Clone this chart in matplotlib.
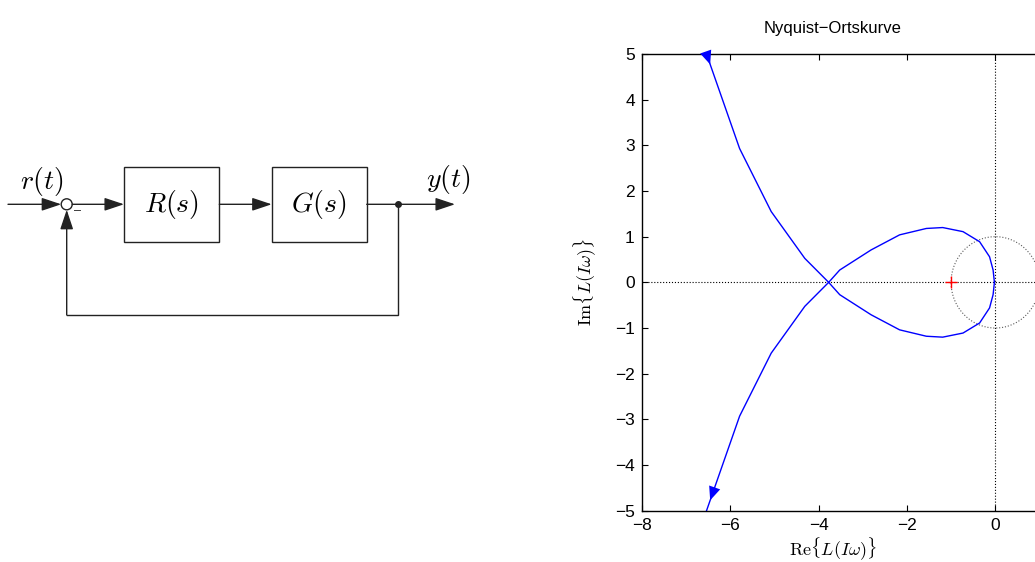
import numpy as np
import matplotlib
matplotlib.use('Agg')
import matplotlib.pyplot as plt
from matplotlib.patches import Circle, Rectangle

plt.rcParams['font.family'] = ['Liberation Sans', 'DejaVu Sans']
plt.rcParams['mathtext.fontset'] = 'cm'

# Ortskurve L(I*w): Zweig von unten ueber den Schnittpunkt bis zum Ursprung
re_branch = [-6.75, -5.785, -5.07, -4.31, -3.77, -3.52, -2.81, -2.165, -1.56,
             -1.19, -0.73, -0.355, -0.13, -0.05, -0.02]
im_branch = [-5.6, -2.93, -1.55, -0.525, 0.0, 0.27, 0.71, 1.04, 1.18,
             1.20, 1.11, 0.89, 0.56, 0.27, 0.0]
critical_point = [-1, 0]
x_ticks = [-8, -6, -4, -2, 0]
y_ticks = [-5, -4, -3, -2, -1, 0, 1, 2, 3, 4, 5]

re_branch = np.array(re_branch)
im_branch = np.array(im_branch)

fig = plt.figure(figsize=(10.35, 5.62), dpi=100)

# ---- Blockschaltbild (in Pixelkoordinaten) ----
ax0 = fig.add_axes([0, 0, 1, 1])
ax0.set_xlim(0, 1035)
ax0.set_ylim(562, 0)
ax0.axis('off')

lc = '#222222'
arrow = dict(arrowstyle='-|>,head_length=0.6,head_width=0.2', color=lc, lw=1,
             mutation_scale=20, shrinkA=0, shrinkB=0)

cx, cy, cr = 66.7, 204.3, 5.5
ax0.add_patch(Circle((cx, cy), cr, facecolor='white', edgecolor=lc, lw=1, zorder=3))
ax0.add_patch(Rectangle((124, 167.3), 95.3, 74.4, fill=False, edgecolor=lc, lw=1))
ax0.add_patch(Rectangle((271.7, 167.3), 95, 74.4, fill=False, edgecolor=lc, lw=1))

ax0.annotate('', xy=(cx - cr, cy), xytext=(8, cy), arrowprops=arrow)
ax0.annotate('', xy=(124, cy), xytext=(cx + cr, cy), arrowprops=arrow)
ax0.annotate('', xy=(271.7, cy), xytext=(219.3, cy), arrowprops=arrow)
ax0.annotate('', xy=(455, cy), xytext=(366.7, cy), arrowprops=arrow)
ax0.plot([398.3, 398.3, cx], [cy, 315, 315], color=lc, lw=1,
         solid_joinstyle='miter')
ax0.annotate('', xy=(cx, cy + cr), xytext=(cx, 315), arrowprops=arrow)
ax0.plot(398.3, cy, 'o', color=lc, ms=4)

ax0.text(41.7, 181, r'$r(t)$', fontsize=20, ha='center', va='center')
ax0.text(448, 180, r'$y(t)$', fontsize=20, ha='center', va='center')
ax0.text(171.6, 204.5, r'$R(s)$', fontsize=20, ha='center', va='center')
ax0.text(319.2, 204.5, r'$G(s)$', fontsize=20, ha='center', va='center')
ax0.text(78, 211, '\u2013', fontsize=9, ha='center', va='center', color=lc)

# ---- Nyquist-Ortskurve ----
# x-Bereich reicht ueber den rechten Bildrand hinaus (rechte Achse abgeschnitten)
ax = fig.add_axes([0.62, 0.0913, 9.4 * 44.2 / 1035, 0.8126])

ax.axhline(0, color='k', ls=':', lw=0.8)
ax.axvline(0, color='k', ls=':', lw=0.8)
phi = np.linspace(0, 2 * np.pi, 300)
ax.plot(np.cos(phi), np.sin(phi), ls=':', color='0.35', lw=0.8)

ax.plot(re_branch, im_branch, color='b', lw=1)
ax.plot(re_branch, -im_branch, color='b', lw=1)
ax.plot(critical_point[0], critical_point[1], '+', color='r', ms=9, mew=1)

# Pfeile auf dem ersten Segment der beiden Zweige
def on_segment(t):
    return (re_branch[0] + t * (re_branch[1] - re_branch[0]),
            im_branch[0] + t * (im_branch[1] - im_branch[0]))

head = dict(arrowstyle='-|>,head_length=0.7,head_width=0.3', color='b', lw=0,
            mutation_scale=14, shrinkA=0, shrinkB=0)
tx, ty = on_segment(0.31)
bx, by = on_segment(0.12)
ax.annotate('', xy=(tx, -ty), xytext=(bx, -by), arrowprops=head)
tx, ty = on_segment(0.31)
bx, by = on_segment(0.50)
ax.annotate('', xy=(tx, ty), xytext=(bx, by), arrowprops=head)

ax.set_xlim(-8, 1.4)
ax.set_ylim(-5, 5)
ax.set_xticks(x_ticks)
ax.set_yticks(y_ticks)
ax.tick_params(direction='in', top=True, right=True, length=4, labelsize=12.5, pad=5)
for s in ax.spines.values():
    s.set_linewidth(1)

ax.set_title('Nyquist\u2212Ortskurve', fontsize=12, pad=15)
ax.set_xlabel(r'$\mathrm{Re}\{L(I\omega)\}$', fontsize=13, labelpad=2)
ax.set_ylabel(r'$\mathrm{Im}\{L(I\omega)\}$', fontsize=13, labelpad=12)
ax.title.set_x((833 - 641.7) / (9.4 * 44.2))
ax.xaxis.label.set_x((833 - 641.7) / (9.4 * 44.2))

fig.savefig('out.png', dpi=100)
